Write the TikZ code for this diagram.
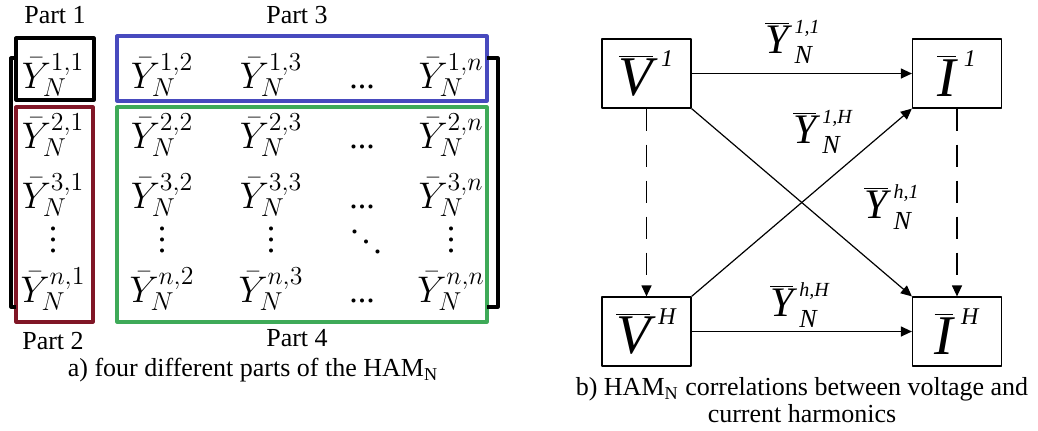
\RequirePackage{fix-cm}
\documentclass[tikz,border=0pt]{standalone}
\usepackage{fontspec}
\setmainfont{Liberation Serif}
\usetikzlibrary{arrows.meta}
\definecolor{partblue}{RGB}{72,74,190}
\definecolor{partred}{RGB}{128,22,38}
\definecolor{partgreen}{RGB}{62,170,88}
% admittance label: bar Y, harmonic pair on top, N below
\newcommand{\ylab}[1]{${\overline{\textit{Y}}\kern3pt}^{\mbox{\fontsize{10}{10}\selectfont\itshape #1}}_{\mbox{\fontsize{13}{13}\selectfont\itshape N}}$}
\newcommand{\hvec}[2]{${\overline{\textit{#1}}\kern4pt}^{\raisebox{2pt}{\fontsize{12}{12}\selectfont\itshape #2}}$}
% short dot rows for the matrix
\newcommand{\hdts}{\mbox{...}}
\newcommand{\vdts}{\vbox{\baselineskip5.5pt\lineskiplimit0pt\hbox{.}\hbox{.}\hbox{.}}}
\newcommand{\ddts}{\mbox{\raisebox{10pt}{.}\kern1.5pt\raisebox{5pt}{.}\kern1.5pt.}}
\begin{document}
\begin{tikzpicture}[x=0.5pt,y=-0.5pt,>={Triangle[length=5.5pt,width=5pt]},line width=0.6pt,line join=round,
    entry/.style={anchor=base,inner sep=0pt,font=\fontsize{18.5}{21}\selectfont},
    dots/.style={inner sep=0pt,font=\fontsize{17}{20}\selectfont},
    part/.style={font=\fontsize{13}{15}\selectfont},
    capt/.style={font=\fontsize{13}{13.5}\selectfont,align=center},
    frame/.style={line width=1.6pt},
    hbox/.style={draw,minimum width=44.5pt,minimum height=34.5pt,inner sep=0pt,font=\fontsize{28}{30}\selectfont},
    lbl/.style={inner sep=0pt,font=\fontsize{21}{24}\selectfont}]
  \useasboundingbox (0,0) rectangle (1038,430);
  % a) the matrix and its four parts
  \foreach \r/\yb in {1/88,2/148,3/208,n/302}{
    \foreach \c/\xc in {1/53,2/162,3/271,n/451}
      \node[entry] (y\r\c) at (\xc,\yb) {$\bar{Y}_N^{\r,\c}$};
    \node[dots,anchor=base] (h\r) at (362,\yb) {\hdts};
  }
  \foreach \c/\xc in {1/53,2/162,3/271,n/451}
    \node[dots] (v\c) at (\xc,240) {\vdts};
  \node[dots] (dd) at (366,242) {\ddts};
  \draw[frame] (16,38) rectangle (94,100);
  \draw[frame,partblue] (117,36) rectangle (487,101);
  \draw[frame,partred] (16,107) rectangle (93,322);
  \draw[frame,partgreen] (117,107) rectangle (487,322);
  \draw[frame] (16,58) -| (11,307) -- (16,307);
  \draw[frame] (487,58) -| (498,307) -- (487,307);
  \node[part] (p1) at (55,15) {Part 1};
  \node[part] (p3) at (297,15) {Part 3};
  \node[part] (p2) at (53,341) {Part 2};
  \node[part] (p4) at (297,338) {Part 4};
  \node[capt] (capa) at (253,370) {a) four different parts of the HAM\textsubscript{N}};
  % b) voltage / current harmonics
  \node[hbox] (v1) at (646.5,73.5) {\hvec{V}{1}};
  \node[hbox] (i1) at (957,73.5) {\hvec{I}{1}};
  \node[hbox] (vh) at (646.5,331.5) {\hvec{V}{H}};
  \node[hbox] (ih) at (957,331.5) {\hvec{I}{H}};
  \draw[->] (v1) -- (i1);
  \draw[->] (vh) -- (ih);
  \draw[->] (v1.south east) -- (ih.north west);
  \draw[->] (vh.north east) -- (i1.south west);
  \draw[->,dash pattern=on 11pt off 7pt] (v1) -- (vh);
  \draw[->,dash pattern=on 11pt off 7pt] (i1) -- (ih);
  \node[lbl] (g11) at (793,42) {\ylab{1,1}};
  \node[lbl] (g1h) at (823,132) {\ylab{1,H}};
  \node[lbl] (gh1) at (892,207) {\ylab{h,1}};
  \node[lbl] (ghh) at (800,305) {\ylab{h,H}};
  \node[capt] (capb) at (802,400) {b) HAM\textsubscript{N} correlations between voltage and\\current harmonics};
\end{tikzpicture}
\end{document}
